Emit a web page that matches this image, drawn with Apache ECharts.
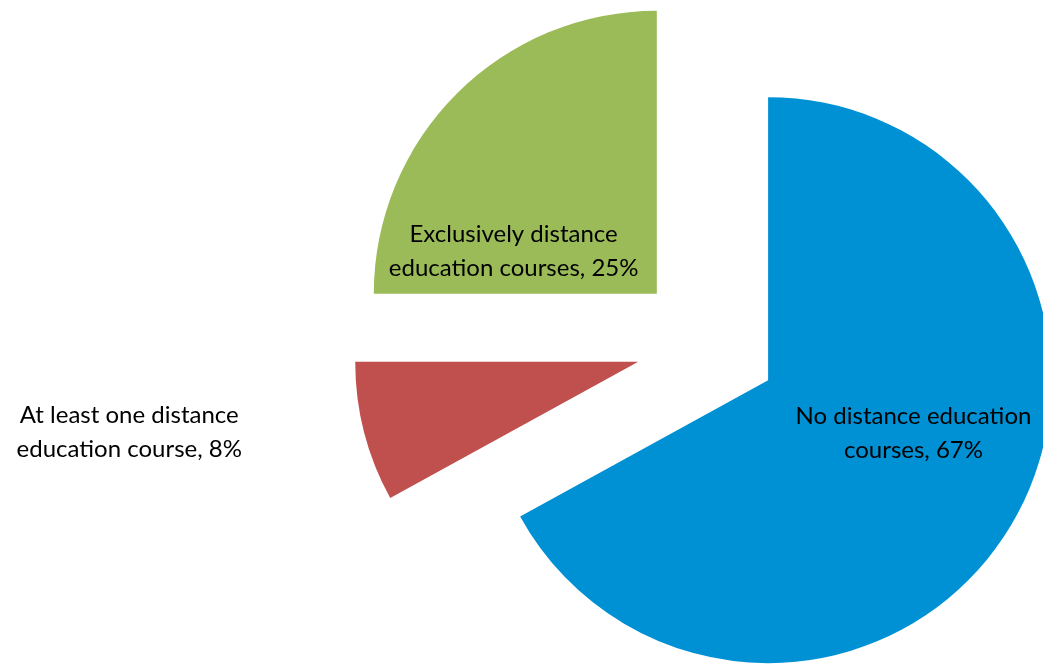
<!DOCTYPE html>
<html>
<head>
<meta charset="utf-8">
<script src="https://cdn.jsdelivr.net/npm/echarts@6/dist/echarts.min.js"></script>
<style>
html,body{margin:0;padding:0;background:#fff;}
#chart{width:1043px;height:665px;}
</style>
</head>
<body>
<div id="chart"></div>
<script>
const categories = ['No distance education courses', 'At least one distance education course', 'Exclusively distance education courses'];
const labelLines = [['No distance education', 'courses, 67%'], ['At least one distance', 'education course, 8%'], ['Exclusively distance', 'education courses, 25%']];
const values = [67, 8, 25];
const colors = ['#0091D5', '#C0504D', '#9BBB59'];
const labelShift = [[21, -20], [-369, 35], [-41, 60]];

const chart = echarts.init(document.getElementById('chart'));
chart.setOption({
  animation: false,
  series: [{
    type: 'pie',
    center: [707, 344],
    radius: [0, 283],
    startAngle: 90,
    clockwise: true,
    selectedMode: 'multiple',
    selectedOffset: 71,
    emphasis: { disabled: true },
    labelLine: { show: false },
    label: {
      show: true,
      position: 'inside',
      fontFamily: 'Lato',
      fontSize: 24,
      lineHeight: 34,
      color: '#000',
      align: 'center',
      formatter: p => labelLines[p.dataIndex].join('\n')
    },
    labelLayout: p => ({ dx: labelShift[p.dataIndex][0], dy: labelShift[p.dataIndex][1] }),
    data: categories.map((c, i) => ({
      name: c,
      value: values[i],
      selected: true,
      itemStyle: { color: colors[i] },
      select: { itemStyle: { color: colors[i] } }
    }))
  }]
});
</script>
</body>
</html>
